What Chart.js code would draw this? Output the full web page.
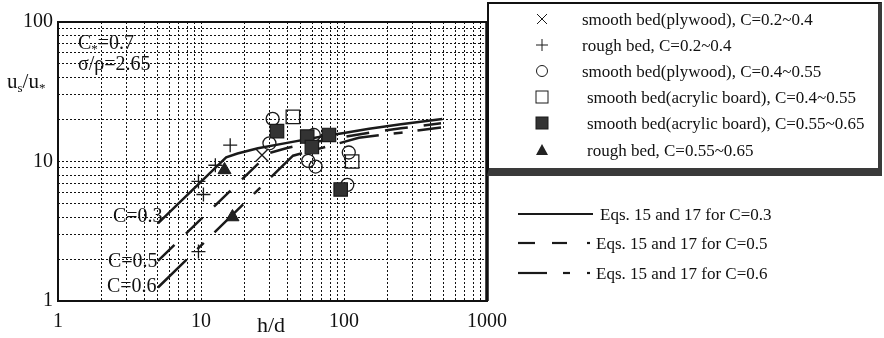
<!DOCTYPE html>
<html><head><meta charset="utf-8">
<script src="https://cdn.jsdelivr.net/npm/chart.js@4"></script>
<style>
html,body{margin:0;padding:0;background:#fff;width:884px;height:338px;overflow:hidden;}
#wrap{position:relative;width:884px;height:338px;font-family:"Liberation Serif","Times New Roman",serif;color:#111;}
canvas{position:absolute;left:0;top:0;}
.t{position:absolute;white-space:nowrap;line-height:1;}
.lab{font-size:20px;}
.leg{font-size:17px;}
sub{font-size:13px;vertical-align:-4px;line-height:0;}
#box{position:absolute;left:487px;top:2px;width:395px;height:174px;box-sizing:border-box;border-left:2px solid #111;border-top:2px solid #111;border-right:4px solid #3a3a3a;border-bottom:8px solid #3a3a3a;background:#fff;}
svg{position:absolute;left:0;top:0;}
</style></head>
<body><div id="wrap">
<canvas id="c" width="884" height="338"></canvas>
<div id="box"></div>
<svg width="884" height="338" id="ov"></svg>
<div class="t lab" style="left:78px;top:32px;">C<sub>*</sub>=0.7</div>
<div class="t lab" style="left:78px;top:53px;">σ/ρ=2.65</div>
<div class="t lab" style="left:7px;top:71px;font-size:21px;">u<sub>s</sub>/u<sub>*</sub></div>
<div class="t lab" style="left:257px;top:314px;font-size:22px;">h/d</div>
<div class="t lab" style="left:113px;top:205px;">C=0.3</div>
<div class="t lab" style="left:108px;top:250px;">C=0.5</div>
<div class="t lab" style="left:107px;top:275px;">C=0.6</div>
<div class="t leg" style="left:582px;top:11px;">smooth bed(plywood), C=0.2~0.4</div>
<div class="t leg" style="left:582px;top:37px;">rough bed, C=0.2~0.4</div>
<div class="t leg" style="left:582px;top:63px;">smooth bed(plywood), C=0.4~0.55</div>
<div class="t leg" style="left:587px;top:89px;">smooth bed(acrylic board), C=0.4~0.55</div>
<div class="t leg" style="left:587px;top:115px;">smooth bed(acrylic board), C=0.55~0.65</div>
<div class="t leg" style="left:587px;top:142px;">rough bed, C=0.55~0.65</div>
<div class="t leg" style="left:600px;top:206px;">Eqs. 15 and 17 for C=0.3</div>
<div class="t leg" style="left:596px;top:235px;">Eqs. 15 and 17 for C=0.5</div>
<div class="t leg" style="left:596px;top:265px;">Eqs. 15 and 17 for C=0.6</div>
</div>
<script>
// ---- tick values / labels ----
const xTickValues = [1,2,3,4,5,6,7,8,9,10,20,30,40,50,60,70,80,90,100,200,300,400,500,600,700,800,900,1000];
const yTickValues = [1,2,3,4,5,6,7,8,9,10,20,30,40,50,60,70,80,90,100];
const xTickLabels = ['1','10','100','1000'];
const yTickLabels = ['1','10','100'];

// ---- measured points ----
const crossX = [26.7];
const crossY = [11.1];
const plusX = [16.0, 12.6, 9.6, 10.4, 9.6];
const plusY = [13.1, 9.4, 7.2, 5.8, 2.26];
const circleX = [31.7, 30.1, 56.2, 63.3, 61.5, 108, 105.5];
const circleY = [20.2, 13.5, 10.1, 9.2, 15.5, 11.6, 6.8];
const openSqX = [43.9, 114];
const openSqY = [20.9, 10.0];
const filledSqX = [34, 55.3, 59.6, 78.5, 94.8];
const filledSqY = [16.5, 15.1, 12.7, 15.5, 6.3];
const triX = [14.6, 16.6];
const triY = [8.7, 4.0];

// ---- model curves ----
const c03X = [5, 15, 18, 25, 40, 70, 100, 150, 250, 487];
const c03Y = [3.6, 10.7, 11.4, 12.45, 13.6, 15.1, 16.0, 17.2, 18.5, 20.2];
const c05X = [5, 30, 40, 60, 100, 150, 250, 477];
const c05Y = [1.94, 11.5, 12.5, 13.7, 15.0, 16.1, 17.3, 18.8];
const c06X = [5, 44, 62, 90, 127, 250, 477];
const c06Y = [1.25, 11.0, 12.1, 13.4, 14.8, 16.1, 17.5];

const pts = (xs, ys) => xs.map((x, i) => ({x: x, y: ys[i]}));
const INK = '#1a1a1a';

function marker(xs, ys, style, r, fill, bw) {
  return {data: pts(xs, ys), showLine: false, pointStyle: style, pointRadius: r,
    pointBorderColor: INK, pointBackgroundColor: fill, pointBorderWidth: bw, pointHoverRadius: r};
}
function curve(xs, ys, dash) {
  return {data: pts(xs, ys), showLine: true, pointRadius: 0, borderColor: INK, borderWidth: 2.5,
    borderDash: dash, fill: false, tension: 0};
}

const frame = {
  id: 'frame',
  beforeDatasetsDraw(chart) {
    const {ctx, chartArea: a} = chart;
    ctx.save();
    ctx.strokeStyle = '#111';
    ctx.lineWidth = 2;
    ctx.strokeRect(a.left, a.top, a.right - a.left, a.bottom - a.top);
    ctx.lineWidth = 3.5;
    ctx.beginPath(); ctx.moveTo(a.right, a.top); ctx.lineTo(a.right, a.bottom); ctx.stroke();
    ctx.restore();
  }
};

const gridOpts = {color: '#111', lineWidth: 1, drawTicks: false, borderDash: [2, 2]};
const tickFont = {family: '"Liberation Serif","Times New Roman",serif', size: 20};

new Chart(document.getElementById('c'), {
  type: 'scatter',
  data: {datasets: [
    marker(filledSqX, filledSqY, 'rect', 9.5, '#333', 1.2),
    marker(triX, triY, 'triangle', 7.5, '#222', 1),
    marker(openSqX, openSqY, 'rect', 9.5, 'rgba(0,0,0,0)', 1.3),
    marker(circleX, circleY, 'circle', 6.5, 'rgba(0,0,0,0)', 1.3),
    marker(plusX, plusY, 'cross', 7, 'rgba(0,0,0,0)', 1.3),
    marker(crossX, crossY, 'crossRot', 9, 'rgba(0,0,0,0)', 1.3),
    curve(c03X, c03Y, []),
    curve(c05X, c05Y, [23, 16]),
    curve(c06X, c06Y, [40, 15, 9, 15])
  ]},
  options: {
    responsive: false, animation: false, devicePixelRatio: 1,
    layout: {padding: {left: 0, top: 22, right: 397, bottom: 0}},
    plugins: {legend: {display: false}, tooltip: {enabled: false}},
    scales: {
      x: {type: 'logarithmic', min: 1, max: 1000,
        grid: gridOpts, border: {display: false, dash: [2, 2]},
        afterBuildTicks: s => { s.ticks = xTickValues.map(v => ({value: v})); },
        afterFit: s => { s.height = 37; },
        ticks: {autoSkip: false, maxRotation: 0, padding: 9, color: '#111', font: tickFont,
          callback: v => xTickLabels.includes(String(v)) ? String(v) : ''}
      },
      y: {type: 'logarithmic', min: 1, max: 100,
        grid: gridOpts, border: {display: false, dash: [2, 2]},
        afterBuildTicks: s => { s.ticks = yTickValues.map(v => ({value: v})); },
        afterFit: s => { s.width = 58; },
        ticks: {autoSkip: false, padding: 5, color: '#111', font: tickFont,
          callback: v => yTickLabels.includes(String(v)) ? String(v) : ''}
      }
    }
  },
  plugins: [frame]
});

// ---- legend graphics (samples only) ----
const NS = 'http://www.w3.org/2000/svg';
const ov = document.getElementById('ov');
function el(tag, attrs) { const e = document.createElementNS(NS, tag); for (const k in attrs) e.setAttribute(k, attrs[k]); ov.appendChild(e); return e; }
const mx = 542;
const rows = [19, 45, 71, 97, 123, 150];
// x
el('path', {d: `M${mx-5} ${rows[0]-5} L${mx+5} ${rows[0]+5} M${mx+5} ${rows[0]-5} L${mx-5} ${rows[0]+5}`, stroke: INK, 'stroke-width': 1, fill: 'none'});
// +
el('path', {d: `M${mx-6} ${rows[1]} L${mx+6} ${rows[1]} M${mx} ${rows[1]-6} L${mx} ${rows[1]+6}`, stroke: INK, 'stroke-width': 1, fill: 'none'});
el('circle', {cx: mx, cy: rows[2], r: 5.5, stroke: INK, 'stroke-width': 1, fill: 'none'});
el('rect', {x: mx-6, y: rows[3]-6, width: 12, height: 12, stroke: INK, 'stroke-width': 1, fill: 'none'});
el('rect', {x: mx-6, y: rows[4]-6, width: 12, height: 12, stroke: INK, 'stroke-width': 1, fill: '#333'});
el('path', {d: `M${mx} ${rows[5]-6} L${mx+6} ${rows[5]+5} L${mx-6} ${rows[5]+5} Z`, fill: '#222'});
// line samples
el('line', {x1: 518, y1: 214, x2: 593, y2: 214, stroke: INK, 'stroke-width': 2.2});
[[518,535],[552,567],[587,590]].forEach(s => el('line', {x1: s[0], y1: 243, x2: s[1], y2: 243, stroke: INK, 'stroke-width': 2.2}));
[[518,547],[563,570],[587,590]].forEach(s => el('line', {x1: s[0], y1: 273, x2: s[1], y2: 273, stroke: INK, 'stroke-width': 2.2}));
</script>
</body></html>
